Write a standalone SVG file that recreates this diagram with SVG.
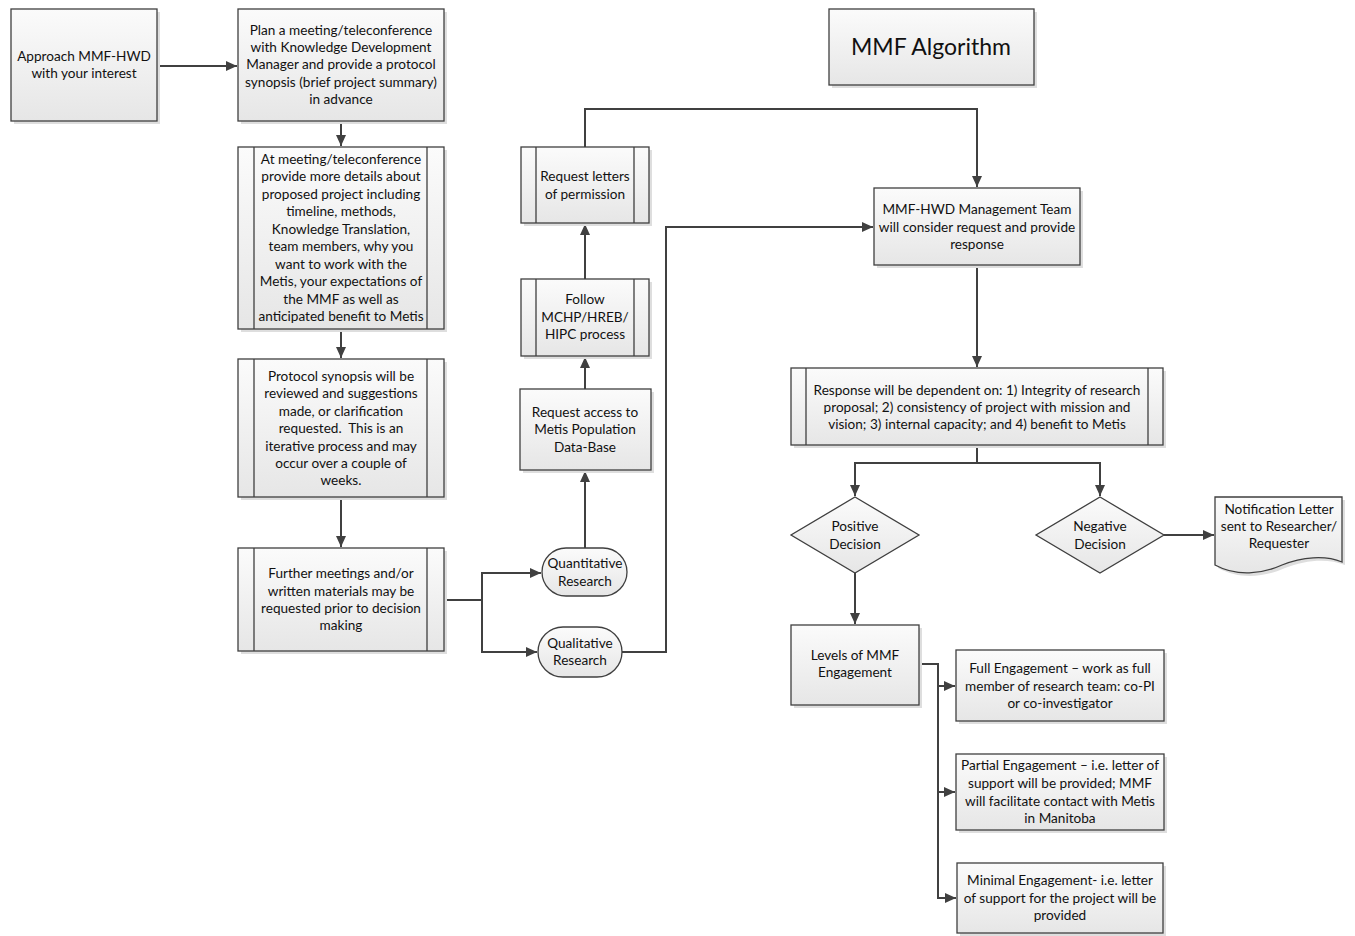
<svg xmlns="http://www.w3.org/2000/svg" width="1355" height="936" viewBox="0 0 1355 936">
<style>
.b{fill:url(#g);stroke:#3f3f3f;stroke-width:1.3}
.s{fill:#dedede;stroke:none}
.l{fill:none;stroke:#3f3f3f;stroke-width:1.3}
.c{fill:none;stroke:#404040;stroke-width:2}
text{font-family:"Lato","Liberation Sans",sans-serif;font-size:13.6px;fill:#111;text-anchor:middle}
.t{font-size:23px}
</style>
<defs>
<linearGradient id="g" x1="0" y1="0" x2="0" y2="1"><stop offset="0" stop-color="#fbfbfb"/><stop offset="1" stop-color="#e6e6e6"/></linearGradient>
<marker id="a" markerWidth="12" markerHeight="12" refX="11" refY="6" orient="auto" markerUnits="userSpaceOnUse"><path d="M0,1 L11,6 L0,11 Z" fill="#404040"/></marker>
</defs>

<g id="connectors">
<path class="c" d="M157,66 H237" marker-end="url(#a)"/>
<path class="c" d="M341,121 V146" marker-end="url(#a)"/>
<path class="c" d="M341,329 V358" marker-end="url(#a)"/>
<path class="c" d="M341,497 V547" marker-end="url(#a)"/>
<path class="c" d="M444,600 H482 V573 H541" marker-end="url(#a)"/>
<path class="c" d="M482,600 V652 H537" marker-end="url(#a)"/>
<path class="c" d="M585,548 V471" marker-end="url(#a)"/>
<path class="c" d="M585,389 V357" marker-end="url(#a)"/>
<path class="c" d="M585,279 V224" marker-end="url(#a)"/>
<path class="c" d="M585,147 V109 H977 V187" marker-end="url(#a)"/>
<path class="c" d="M622,652 H666 V227 H873" marker-end="url(#a)"/>
<path class="c" d="M977,265 V367" marker-end="url(#a)"/>
<path class="c" d="M977,445 V463 H855 V496" marker-end="url(#a)"/>
<path class="c" d="M977,463 H1100 V496" marker-end="url(#a)"/>
<path class="c" d="M1164,535 H1214" marker-end="url(#a)"/>
<path class="c" d="M855,573 V624" marker-end="url(#a)"/>
<path class="c" d="M919,664 H938 V898 H956" marker-end="url(#a)"/>
<path class="c" d="M938,686 H955" marker-end="url(#a)"/>
<path class="c" d="M938,792 H955" marker-end="url(#a)"/>
</g>

<g id="title">
<rect class="s" x="832" y="12" width="205" height="76"/>
<rect class="b" x="829" y="9" width="205" height="76"/>
<text class="t" x="931" y="55">MMF Algorithm</text>
</g>

<g id="approach">
<rect class="s" x="14" y="12" width="146" height="112"/>
<rect class="b" x="11" y="9" width="146" height="112"/>
<text x="84" y="61">Approach MMF-HWD</text>
<text x="84" y="78">with your interest</text>
</g>

<g id="plan">
<rect class="s" x="241" y="12" width="206" height="112"/>
<rect class="b" x="238" y="9" width="206" height="112"/>
<text x="341" y="35">Plan a meeting/teleconference</text>
<text x="341" y="52">with Knowledge Development</text>
<text x="341" y="69">Manager and provide a protocol</text>
<text x="341" y="87">synopsis (brief project summary)</text>
<text x="341" y="104">in advance</text>
</g>

<g id="meeting">
<rect class="s" x="241" y="150" width="206" height="182"/>
<rect class="b" x="238" y="147" width="206" height="182"/>
<path class="l" d="M254,147 V329 M427,147 V329"/>
<text x="341" y="164">At meeting/teleconference</text>
<text x="341" y="181">provide more details about</text>
<text x="341" y="199">proposed project including</text>
<text x="341" y="216">timeline, methods,</text>
<text x="341" y="234">Knowledge Translation,</text>
<text x="341" y="251">team members, why you</text>
<text x="341" y="269">want to work with the</text>
<text x="341" y="286">Metis, your expectations of</text>
<text x="341" y="304">the MMF as well as</text>
<text x="341" y="321">anticipated benefit to Metis</text>
</g>

<g id="synopsis">
<rect class="s" x="241" y="362" width="206" height="138"/>
<rect class="b" x="238" y="359" width="206" height="138"/>
<path class="l" d="M254,359 V497 M427,359 V497"/>
<text x="341" y="381">Protocol synopsis will be</text>
<text x="341" y="398">reviewed and suggestions</text>
<text x="341" y="416">made, or clarification</text>
<text x="341" y="433" xml:space="preserve">requested.  This is an</text>
<text x="341" y="451">iterative process and may</text>
<text x="341" y="468">occur over a couple of</text>
<text x="341" y="485">weeks.</text>
</g>

<g id="further">
<rect class="s" x="241" y="551" width="206" height="103"/>
<rect class="b" x="238" y="548" width="206" height="103"/>
<path class="l" d="M254,548 V651 M427,548 V651"/>
<text x="341" y="578">Further meetings and/or</text>
<text x="341" y="596">written materials may be</text>
<text x="341" y="613">requested prior to decision</text>
<text x="341" y="630">making</text>
</g>

<g id="quantitative">
<rect class="b" x="542" y="548" width="85" height="48" rx="24"/>
<text x="585" y="568">Quantitative</text>
<text x="585" y="586">Research</text>
</g>

<g id="qualitative">
<rect class="b" x="538" y="627" width="84" height="50" rx="25"/>
<text x="580" y="648">Qualitative</text>
<text x="580" y="665">Research</text>
</g>

<g id="access">
<rect class="s" x="523" y="392" width="131" height="81"/>
<rect class="b" x="520" y="389" width="131" height="81"/>
<text x="585" y="417">Request access to</text>
<text x="585" y="434">Metis Population</text>
<text x="585" y="452">Data-Base</text>
</g>

<g id="follow">
<rect class="s" x="524" y="282" width="128" height="77"/>
<rect class="b" x="521" y="279" width="128" height="77"/>
<path class="l" d="M536,279 V356 M634,279 V356"/>
<text x="585" y="304">Follow</text>
<text x="585" y="322">MCHP/HREB/</text>
<text x="585" y="339">HIPC process</text>
</g>

<g id="letters">
<rect class="s" x="524" y="150" width="128" height="76"/>
<rect class="b" x="521" y="147" width="128" height="76"/>
<path class="l" d="M536,147 V223 M634,147 V223"/>
<text x="585" y="181">Request letters</text>
<text x="585" y="199">of permission</text>
</g>

<g id="management">
<rect class="s" x="877" y="191" width="206" height="77"/>
<rect class="b" x="874" y="188" width="206" height="77"/>
<text x="977" y="214">MMF-HWD Management Team</text>
<text x="977" y="232">will consider request and provide</text>
<text x="977" y="249">response</text>
</g>

<g id="response">
<rect class="s" x="794" y="371" width="372" height="77"/>
<rect class="b" x="791" y="368" width="372" height="77"/>
<path class="l" d="M806,368 V445 M1148,368 V445"/>
<text x="977" y="395">Response will be dependent on: 1) Integrity of research</text>
<text x="977" y="412">proposal; 2) consistency of project with mission and</text>
<text x="977" y="429">vision; 3) internal capacity; and 4) benefit to Metis</text>
</g>

<g id="positive">
<path class="b" d="M855,497 L919,535 L855,573 L791,535 Z"/>
<text x="855" y="531">Positive</text>
<text x="855" y="549">Decision</text>
</g>

<g id="negative">
<path class="b" d="M1100,497 L1164,535 L1100,573 L1036,535 Z"/>
<text x="1100" y="531">Negative</text>
<text x="1100" y="549">Decision</text>
</g>

<g id="notification">
<path class="s" d="M1218,500 H1345 V565 C1328,558 1305,560 1285,568 C1265,577 1240,580 1218,568 Z"/>
<path class="b" d="M1215,497 H1342 V562 C1325,555 1302,557 1282,565 C1262,574 1237,577 1215,565 Z"/>
<text x="1279" y="514">Notification Letter</text>
<text x="1279" y="531">sent to Researcher/</text>
<text x="1279" y="548">Requester</text>
</g>

<g id="levels">
<rect class="s" x="794" y="628" width="128" height="80"/>
<rect class="b" x="791" y="625" width="128" height="80"/>
<text x="855" y="660">Levels of MMF</text>
<text x="855" y="677">Engagement</text>
</g>

<g id="full">
<rect class="s" x="959" y="653" width="208" height="71"/>
<rect class="b" x="956" y="650" width="208" height="71"/>
<text x="1060" y="673">Full Engagement – work as full</text>
<text x="1060" y="691">member of research team: co-PI</text>
<text x="1060" y="708">or co-investigator</text>
</g>

<g id="partial">
<rect class="s" x="959" y="757" width="208" height="76"/>
<rect class="b" x="956" y="754" width="208" height="76"/>
<text x="1060" y="770">Partial Engagement – i.e. letter of</text>
<text x="1060" y="788">support will be provided; MMF</text>
<text x="1060" y="806">will facilitate contact with Metis</text>
<text x="1060" y="823">in Manitoba</text>
</g>

<g id="minimal">
<rect class="s" x="960" y="866" width="206" height="70"/>
<rect class="b" x="957" y="863" width="206" height="70"/>
<text x="1060" y="885">Minimal Engagement- i.e. letter</text>
<text x="1060" y="903">of support for the project will be</text>
<text x="1060" y="920">provided</text>
</g>
</svg>
